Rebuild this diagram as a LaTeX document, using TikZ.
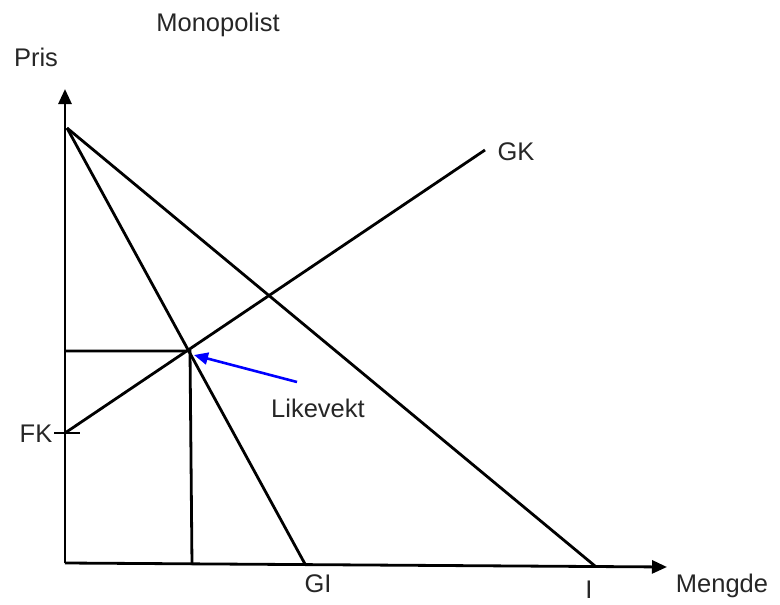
\documentclass[tikz,border=0pt]{standalone}
\usepackage{fontspec}
\setmainfont{Liberation Sans}
\usetikzlibrary{arrows.meta}
\begin{document}
\begin{tikzpicture}[x=1pt,y=-1pt,
  curve/.style={line width=2.8pt,black},
  axis/.style={line width=2.8pt,black,-{Triangle[length=15pt,width=13pt]}},
  lbl/.style={font=\fontsize{25.5}{30}\selectfont,text=black!85,inner sep=0pt}]
\useasboundingbox (0,0) rectangle (780,605);
% points
\coordinate (O) at (65,563);
\coordinate (Ytip) at (65,89);
\coordinate (Xtip) at (667,567);
\coordinate (Top) at (67,128);
\coordinate (Iend) at (595,566);
\coordinate (GIend) at (305,564);
\coordinate (FK) at (65,433);
\coordinate (FKl) at (54,433);
\coordinate (FKr) at (80,433);
\coordinate (GKend) at (485,150);
\coordinate (E) at (190,351);
\coordinate (Ey) at (65,351);
\coordinate (Ex) at (192,565);
\coordinate (Astart) at (297,382);
\coordinate (Atip) at (194,355);
% axes
\draw[axis] (O) -- (Ytip);
\draw[axis] (O) -- (Xtip);
% curves
\draw[curve] (Top) -- (Iend);
\draw[curve] (Top) -- (GIend);
\draw[curve] (FK) -- (GKend);
\draw[curve] (FKl) -- (FKr);
\draw[curve] (Ey) -- (E) -- (Ex);
% arrow
\draw[line width=2.6pt,blue!85!cyan!60!black!0!blue,-{Triangle[length=14pt,width=12pt]}] (Astart) -- (Atip);
% labels
\node[lbl] (title) at (218,25) {Monopolist};
\node[lbl] (pris) at (36,57) {Pris};
\node[lbl] (gk) at (516,152) {GK};
\node[lbl] (fk) at (36,434) {FK};
\node[lbl] (lik) at (318,408) {Likevekt};
\node[lbl] (gi) at (318,584) {GI};
\node[lbl] (i) at (589,590) {I};
\node[lbl] (mengde) at (722,586) {Mengde};
\end{tikzpicture}
\end{document}
